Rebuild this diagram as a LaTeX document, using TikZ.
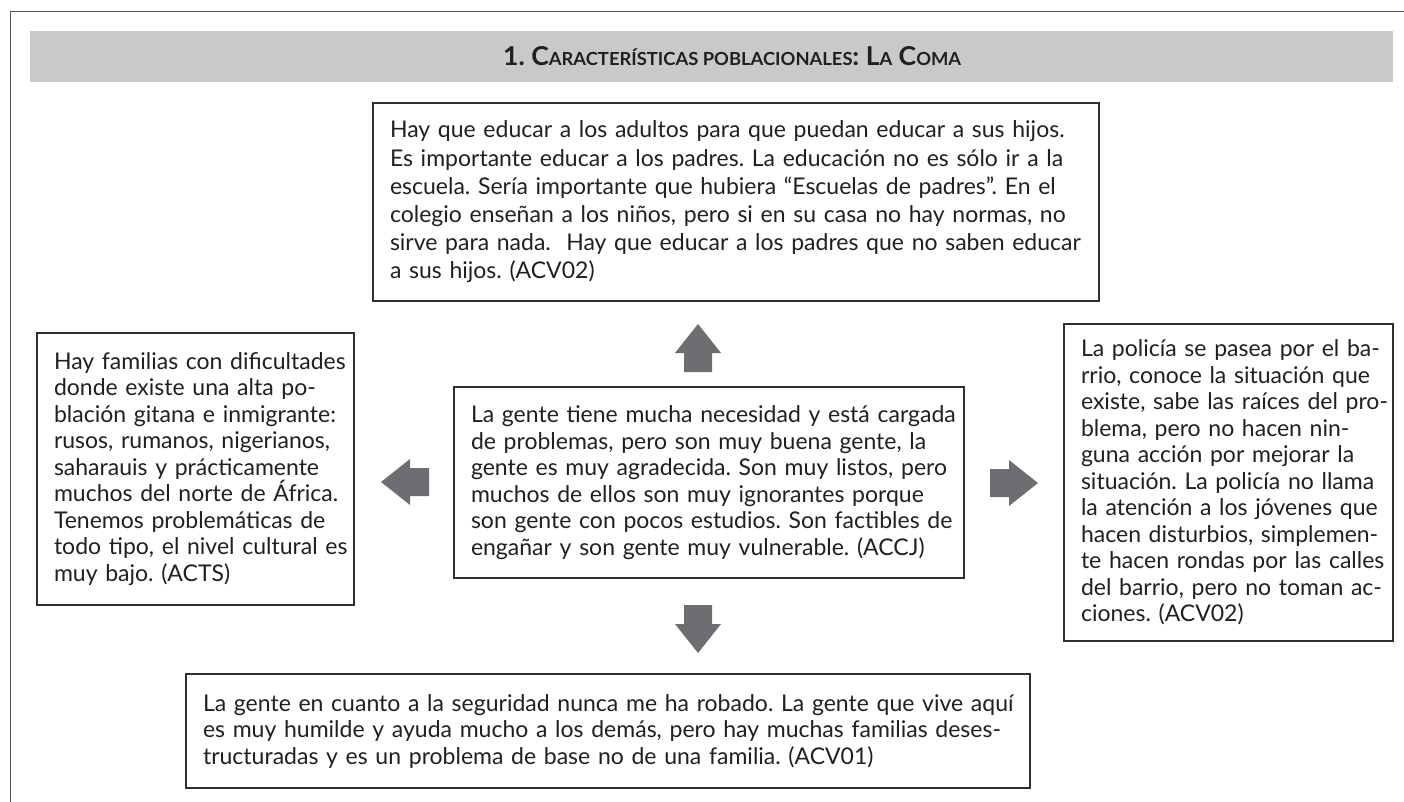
\documentclass[tikz,border=0pt]{standalone}
\usepackage{fontspec}
\usepackage{graphicx}
\setmainfont{Lato}
\usetikzlibrary{calc}
\definecolor{bandgray}{HTML}{C8C9CB}
\definecolor{arrowgray}{HTML}{6D6E71}
\definecolor{boxline}{HTML}{2E2E2E}
\definecolor{txt}{HTML}{231F20}
\definecolor{framegray}{HTML}{555555}
\setlength\parindent{0pt}
\setlength\parskip{0pt}
\frenchspacing
\newlength\calw
\AtBeginDocument{%
\settowidth{\calw}{\fontsize{10pt}{12pt}\selectfont Hay familias con dificultades}%
\pgfmathsetmacro\ra{283/\calw}%
\settowidth{\calw}{\fontsize{10pt}{12pt}\selectfont La gente tiene mucha necesidad y está cargada}%
\pgfmathsetmacro\rb{477/\calw}%
\settowidth{\calw}{\fontsize{10pt}{12pt}\selectfont te hacen rondas por las calles}%
\pgfmathsetmacro\rc{295/\calw}%
\pgfmathsetmacro\fsz{10*(\ra+\rb+\rc)/3}%
\xdef\fsz{\fsz}}
\newcommand\jl[1]{\makebox[\hsize][s]{#1}\par}
\newcommand\bodyfont{\fontsize{\fsz pt}{26.5pt}\selectfont}
\newcommand\topfont{\fontsize{\fsz pt}{28.2pt}\selectfont}
\newcommand\titlefont{\fontsize{26pt}{28pt}\selectfont\bfseries}
\newcommand\tsc{\fontsize{18pt}{20pt}\selectfont}
\tikzset{
  txtbox/.style={draw=boxline, line width=1.4pt, fill=white, inner xsep=17pt,
    inner ysep=0pt, align=left, text=txt, font=\bodyfont},
  framestyle/.style={draw=framegray, line width=1pt},
  blockarrow/.pic={\fill[arrowgray] (-24,-14) -- (-5,-14) -- (-5,-23) -- (24,0)
    -- (-5,23) -- (-5,14) -- (-24,14) -- cycle;}
}
\begin{document}
\begin{tikzpicture}[x=1pt,y=-1pt]
\useasboundingbox (0,0) rectangle (1404,802);
\fill[white] (0,0) rectangle (1404,802);
% outer frame
\coordinate (fbl) at (10,802);
\coordinate (ftl) at (10,12);
\coordinate (ftr) at (1404,12);
\draw[framestyle] (fbl) -- (ftl) -- (ftr);
% title band
\fill[bandgray] (30,31) rectangle (1393,82);
\node[anchor=base west, font=\titlefont, text=txt, inner sep=0pt] (title) at (503,66)
  {\resizebox{458pt}{\height}{1. C{\tsc ARACTERÍSTICAS POBLACIONALES}: L{\tsc A} C{\tsc OMA}}};
% boxes
\node[txtbox, font=\topfont, text width=692pt, minimum width=726pt, minimum height=198pt] (topbox) at (736,202) {%
\jl{Hay que educar a los adultos para que puedan educar a sus hijos.}%
\jl{Es importante educar a los padres. La educación no es sólo ir a la}%
\jl{escuela. Sería importante que hubiera “Escuelas de padres”. En el}%
\jl{colegio enseñan a los niños, pero si en su casa no hay normas, no}%
\jl{sirve para nada.\ \ Hay que educar a los padres que no saben educar}%
a sus hijos. (ACV02)};
\node[txtbox, text width=283pt, minimum width=317pt, minimum height=272pt] (leftbox) at (195.5,469) {%
\jl{Hay familias con dificultades}%
\jl{donde existe una alta po-}%
\jl{blación gitana e inmigrante:}%
\jl{rusos, rumanos, nigerianos,}%
\jl{saharauis y prácticamente}%
\jl{muchos del norte de África.}%
\jl{Tenemos problemáticas de}%
\jl{todo tipo, el nivel cultural es}%
muy bajo. (ACTS)};
\node[txtbox, text width=476pt, minimum width=510pt, minimum height=191pt] (centerbox) at (709,482.5) {%
\jl{La gente tiene mucha necesidad y está cargada}%
\jl{de problemas, pero son muy buena gente, la}%
\jl{gente es muy agradecida. Son muy listos, pero}%
\jl{muchos de ellos son muy ignorantes porque}%
\jl{son gente con pocos estudios. Son factibles de}%
engañar y son gente muy vulnerable. (ACCJ)};
\node[txtbox, text width=295pt, minimum width=329pt, minimum height=317pt] (rightbox) at (1228.5,482.5) {%
\jl{La policía se pasea por el ba-}%
\jl{rrio, conoce la situación que}%
\jl{existe, sabe las raíces del pro-}%
\jl{blema, pero no hacen nin-}%
\jl{guna acción por mejorar la}%
\jl{situación. La policía no llama}%
\jl{la atención a los jóvenes que}%
\jl{hacen disturbios, simplemen-}%
\jl{te hacen rondas por las calles}%
\jl{del barrio, pero no toman ac-}%
ciones. (ACV02)};
\node[txtbox, text width=810pt, minimum width=844pt, minimum height=114pt] (bottombox) at (608,731) {%
\jl{La gente en cuanto a la seguridad nunca me ha robado. La gente que vive aquí}%
\jl{es muy humilde y ayuda mucho a los demás, pero hay muchas familias deses-}%
tructuradas y es un problema de base no de una familia. (ACV01)};
% block arrows
\pic[rotate=90] (uparrow) at (698,348) {blockarrow};
\pic[rotate=-90] (downarrow) at (698,629) {blockarrow};
\pic[rotate=180] (leftarrow) at (405,482) {blockarrow};
\pic (rightarrow) at (1014,483) {blockarrow};
\end{tikzpicture}
\end{document}
